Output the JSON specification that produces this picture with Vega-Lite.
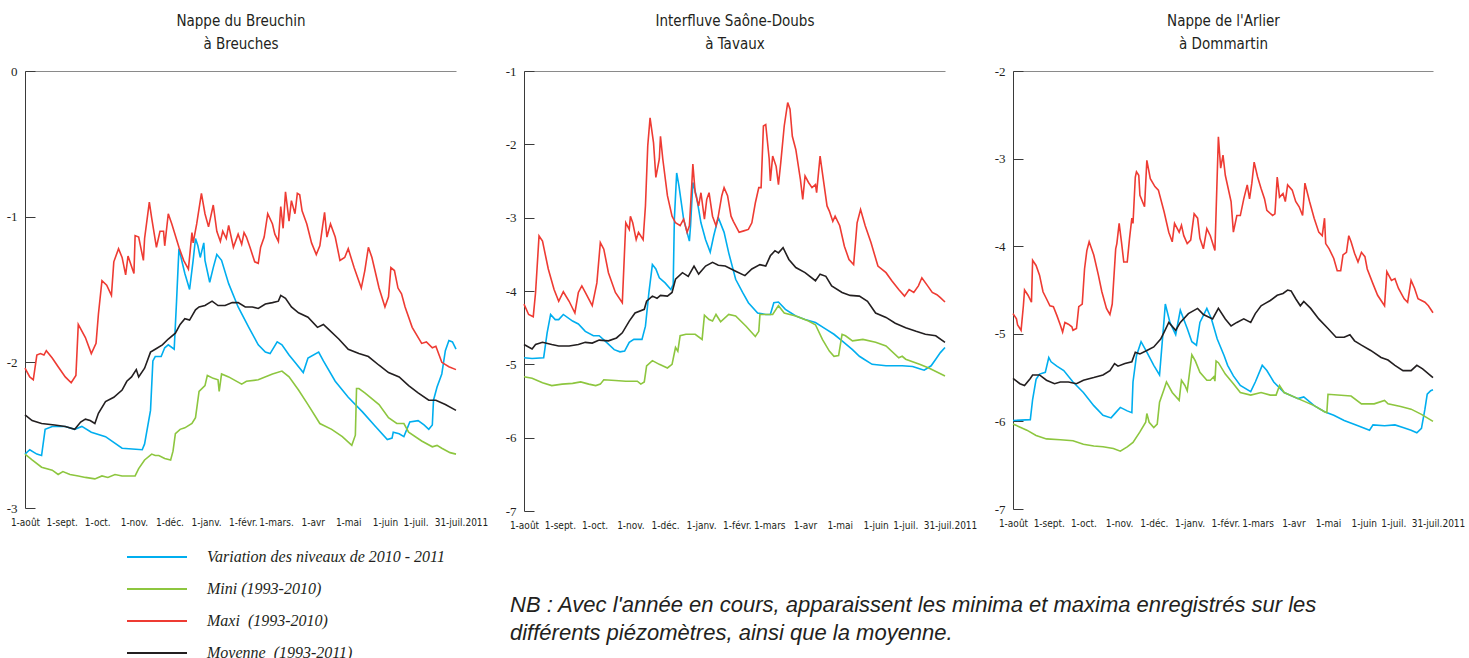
{
"$schema": "https://vega.github.io/schema/vega-lite/v6.json",
"background": "white",
"padding": {"left": 6, "top": 13, "right": 0, "bottom": 0},
"bounds": "flush",
"spacing": 68,
"config": {"view": {"stroke": null}, "font": "Liberation Sans", "axis": {"grid": false}},
"resolve": {"scale": {"x": "independent", "y": "independent", "color": "shared"}, "legend": {"color": "shared"}, "axis": {"x": "independent", "y": "independent"}},
"datasets": {
"p1": [
{"s":"v","j":0,"n":-2.63},{"s":"v","j":4,"n":-2.60},{"s":"v","j":10,"n":-2.63},{"s":"v","j":14,"n":-2.64},{"s":"v","j":17,"n":-2.46},{"s":"v","j":23,"n":-2.44},{"s":"v","j":34,"n":-2.44},{"s":"v","j":42,"n":-2.46},{"s":"v","j":48,"n":-2.44},{"s":"v","j":56,"n":-2.48},{"s":"v","j":68,"n":-2.51},{"s":"v","j":82,"n":-2.59},{"s":"v","j":99,"n":-2.60},{"s":"v","j":101,"n":-2.56},{"s":"v","j":106,"n":-2.33},{"s":"v","j":108,"n":-1.99},{"s":"v","j":110,"n":-1.96},{"s":"v","j":115,"n":-1.96},{"s":"v","j":118,"n":-1.90},{"s":"v","j":121,"n":-1.88},{"s":"v","j":126,"n":-1.91},{"s":"v","j":128,"n":-1.58},{"s":"v","j":130,"n":-1.22},{"s":"v","j":135,"n":-1.39},{"s":"v","j":139,"n":-1.50},{"s":"v","j":142,"n":-1.30},{"s":"v","j":144,"n":-1.15},{"s":"v","j":146,"n":-1.20},{"s":"v","j":148,"n":-1.28},{"s":"v","j":151,"n":-1.18},{"s":"v","j":152,"n":-1.30},{"s":"v","j":156,"n":-1.45},{"s":"v","j":159,"n":-1.35},{"s":"v","j":162,"n":-1.26},{"s":"v","j":166,"n":-1.30},{"s":"v","j":172,"n":-1.46},{"s":"v","j":180,"n":-1.62},{"s":"v","j":189,"n":-1.76},{"s":"v","j":197,"n":-1.88},{"s":"v","j":203,"n":-1.93},{"s":"v","j":207,"n":-1.94},{"s":"v","j":213,"n":-1.86},{"s":"v","j":217,"n":-1.88},{"s":"v","j":223,"n":-1.95},{"s":"v","j":228,"n":-2.00},{"s":"v","j":235,"n":-2.07},{"s":"v","j":239,"n":-1.97},{"s":"v","j":248,"n":-1.93},{"s":"v","j":252,"n":-1.99},{"s":"v","j":262,"n":-2.13},{"s":"v","j":273,"n":-2.24},{"s":"v","j":285,"n":-2.34},{"s":"v","j":296,"n":-2.44},{"s":"v","j":306,"n":-2.53},{"s":"v","j":310,"n":-2.52},{"s":"v","j":311,"n":-2.48},{"s":"v","j":316,"n":-2.49},{"s":"v","j":320,"n":-2.51},{"s":"v","j":325,"n":-2.41},{"s":"v","j":332,"n":-2.40},{"s":"v","j":337,"n":-2.43},{"s":"v","j":341,"n":-2.46},{"s":"v","j":344,"n":-2.43},{"s":"v","j":345,"n":-2.26},{"s":"v","j":348,"n":-2.17},{"s":"v","j":352,"n":-2.08},{"s":"v","j":355,"n":-1.92},{"s":"v","j":358,"n":-1.85},{"s":"v","j":361,"n":-1.86},{"s":"v","j":364,"n":-1.91},
{"s":"mo","j":0,"n":-2.36},{"s":"mo","j":6,"n":-2.40},{"s":"mo","j":14,"n":-2.42},{"s":"mo","j":25,"n":-2.43},{"s":"mo","j":34,"n":-2.44},{"s":"mo","j":42,"n":-2.46},{"s":"mo","j":47,"n":-2.41},{"s":"mo","j":51,"n":-2.39},{"s":"mo","j":55,"n":-2.40},{"s":"mo","j":59,"n":-2.42},{"s":"mo","j":62,"n":-2.35},{"s":"mo","j":68,"n":-2.27},{"s":"mo","j":75,"n":-2.24},{"s":"mo","j":82,"n":-2.19},{"s":"mo","j":86,"n":-2.13},{"s":"mo","j":90,"n":-2.10},{"s":"mo","j":94,"n":-2.05},{"s":"mo","j":96,"n":-2.10},{"s":"mo","j":101,"n":-2.04},{"s":"mo","j":106,"n":-1.93},{"s":"mo","j":110,"n":-1.91},{"s":"mo","j":116,"n":-1.88},{"s":"mo","j":121,"n":-1.84},{"s":"mo","j":127,"n":-1.80},{"s":"mo","j":131,"n":-1.74},{"s":"mo","j":135,"n":-1.70},{"s":"mo","j":139,"n":-1.71},{"s":"mo","j":144,"n":-1.64},{"s":"mo","j":147,"n":-1.62},{"s":"mo","j":152,"n":-1.61},{"s":"mo","j":158,"n":-1.58},{"s":"mo","j":163,"n":-1.61},{"s":"mo","j":169,"n":-1.61},{"s":"mo","j":175,"n":-1.59},{"s":"mo","j":180,"n":-1.59},{"s":"mo","j":186,"n":-1.62},{"s":"mo","j":192,"n":-1.62},{"s":"mo","j":197,"n":-1.63},{"s":"mo","j":203,"n":-1.60},{"s":"mo","j":209,"n":-1.59},{"s":"mo","j":214,"n":-1.58},{"s":"mo","j":216,"n":-1.54},{"s":"mo","j":220,"n":-1.56},{"s":"mo","j":225,"n":-1.62},{"s":"mo","j":231,"n":-1.66},{"s":"mo","j":239,"n":-1.69},{"s":"mo","j":247,"n":-1.76},{"s":"mo","j":252,"n":-1.74},{"s":"mo","j":256,"n":-1.77},{"s":"mo","j":265,"n":-1.84},{"s":"mo","j":273,"n":-1.91},{"s":"mo","j":282,"n":-1.94},{"s":"mo","j":290,"n":-1.96},{"s":"mo","j":299,"n":-2.02},{"s":"mo","j":307,"n":-2.07},{"s":"mo","j":316,"n":-2.10},{"s":"mo","j":324,"n":-2.16},{"s":"mo","j":332,"n":-2.21},{"s":"mo","j":341,"n":-2.26},{"s":"mo","j":347,"n":-2.26},{"s":"mo","j":355,"n":-2.29},{"s":"mo","j":364,"n":-2.33},
{"s":"mi","j":0,"n":-2.63},{"s":"mi","j":6,"n":-2.67},{"s":"mi","j":14,"n":-2.72},{"s":"mi","j":23,"n":-2.74},{"s":"mi","j":28,"n":-2.77},{"s":"mi","j":32,"n":-2.75},{"s":"mi","j":38,"n":-2.77},{"s":"mi","j":45,"n":-2.78},{"s":"mi","j":51,"n":-2.79},{"s":"mi","j":59,"n":-2.80},{"s":"mi","j":65,"n":-2.78},{"s":"mi","j":70,"n":-2.79},{"s":"mi","j":76,"n":-2.77},{"s":"mi","j":82,"n":-2.78},{"s":"mi","j":89,"n":-2.78},{"s":"mi","j":93,"n":-2.78},{"s":"mi","j":96,"n":-2.73},{"s":"mi","j":101,"n":-2.67},{"s":"mi","j":107,"n":-2.63},{"s":"mi","j":110,"n":-2.64},{"s":"mi","j":113,"n":-2.64},{"s":"mi","j":118,"n":-2.66},{"s":"mi","j":123,"n":-2.67},{"s":"mi","j":125,"n":-2.61},{"s":"mi","j":127,"n":-2.49},{"s":"mi","j":131,"n":-2.46},{"s":"mi","j":135,"n":-2.45},{"s":"mi","j":141,"n":-2.42},{"s":"mi","j":144,"n":-2.38},{"s":"mi","j":147,"n":-2.20},{"s":"mi","j":152,"n":-2.16},{"s":"mi","j":154,"n":-2.09},{"s":"mi","j":159,"n":-2.11},{"s":"mi","j":163,"n":-2.12},{"s":"mi","j":164,"n":-2.20},{"s":"mi","j":166,"n":-2.08},{"s":"mi","j":172,"n":-2.10},{"s":"mi","j":183,"n":-2.15},{"s":"mi","j":187,"n":-2.13},{"s":"mi","j":197,"n":-2.12},{"s":"mi","j":209,"n":-2.08},{"s":"mi","j":217,"n":-2.06},{"s":"mi","j":223,"n":-2.10},{"s":"mi","j":231,"n":-2.19},{"s":"mi","j":239,"n":-2.29},{"s":"mi","j":249,"n":-2.42},{"s":"mi","j":259,"n":-2.46},{"s":"mi","j":268,"n":-2.51},{"s":"mi","j":276,"n":-2.57},{"s":"mi","j":279,"n":-2.50},{"s":"mi","j":280,"n":-2.18},{"s":"mi","j":282,"n":-2.18},{"s":"mi","j":287,"n":-2.21},{"s":"mi","j":299,"n":-2.29},{"s":"mi","j":307,"n":-2.38},{"s":"mi","j":314,"n":-2.42},{"s":"mi","j":320,"n":-2.42},{"s":"mi","j":324,"n":-2.48},{"s":"mi","j":335,"n":-2.54},{"s":"mi","j":344,"n":-2.58},{"s":"mi","j":348,"n":-2.57},{"s":"mi","j":352,"n":-2.59},{"s":"mi","j":359,"n":-2.62},{"s":"mi","j":364,"n":-2.63},
{"s":"ma","j":0,"n":-2.04},{"s":"ma","j":4,"n":-2.10},{"s":"ma","j":7,"n":-2.12},{"s":"ma","j":10,"n":-1.95},{"s":"ma","j":13,"n":-1.94},{"s":"ma","j":16,"n":-1.95},{"s":"ma","j":18,"n":-1.92},{"s":"ma","j":23,"n":-1.97},{"s":"ma","j":28,"n":-2.03},{"s":"ma","j":34,"n":-2.10},{"s":"ma","j":39,"n":-2.14},{"s":"ma","j":43,"n":-2.09},{"s":"ma","j":45,"n":-1.74},{"s":"ma","j":51,"n":-1.83},{"s":"ma","j":56,"n":-1.94},{"s":"ma","j":60,"n":-1.87},{"s":"ma","j":62,"n":-1.67},{"s":"ma","j":65,"n":-1.44},{"s":"ma","j":69,"n":-1.47},{"s":"ma","j":73,"n":-1.54},{"s":"ma","j":75,"n":-1.31},{"s":"ma","j":79,"n":-1.22},{"s":"ma","j":82,"n":-1.28},{"s":"ma","j":85,"n":-1.40},{"s":"ma","j":87,"n":-1.27},{"s":"ma","j":92,"n":-1.39},{"s":"ma","j":93,"n":-1.13},{"s":"ma","j":96,"n":-1.14},{"s":"ma","j":100,"n":-1.30},{"s":"ma","j":101,"n":-1.15},{"s":"ma","j":105,"n":-0.90},{"s":"ma","j":107,"n":-1.01},{"s":"ma","j":111,"n":-1.21},{"s":"ma","j":114,"n":-1.10},{"s":"ma","j":117,"n":-1.10},{"s":"ma","j":118,"n":-1.20},{"s":"ma","j":121,"n":-0.98},{"s":"ma","j":124,"n":-1.05},{"s":"ma","j":130,"n":-1.21},{"s":"ma","j":134,"n":-1.30},{"s":"ma","j":138,"n":-1.36},{"s":"ma","j":141,"n":-1.11},{"s":"ma","j":142,"n":-1.18},{"s":"ma","j":145,"n":-1.05},{"s":"ma","j":149,"n":-0.84},{"s":"ma","j":152,"n":-0.98},{"s":"ma","j":155,"n":-1.07},{"s":"ma","j":159,"n":-0.92},{"s":"ma","j":162,"n":-1.10},{"s":"ma","j":165,"n":-1.17},{"s":"ma","j":167,"n":-1.10},{"s":"ma","j":170,"n":-1.15},{"s":"ma","j":172,"n":-1.06},{"s":"ma","j":176,"n":-1.21},{"s":"ma","j":180,"n":-1.12},{"s":"ma","j":183,"n":-1.19},{"s":"ma","j":185,"n":-1.11},{"s":"ma","j":187,"n":-1.14},{"s":"ma","j":190,"n":-1.21},{"s":"ma","j":194,"n":-1.31},{"s":"ma","j":197,"n":-1.32},{"s":"ma","j":199,"n":-1.21},{"s":"ma","j":202,"n":-1.14},{"s":"ma","j":205,"n":-0.98},{"s":"ma","j":209,"n":-1.05},{"s":"ma","j":211,"n":-1.12},{"s":"ma","j":214,"n":-1.17},{"s":"ma","j":216,"n":-0.93},{"s":"ma","j":218,"n":-1.08},{"s":"ma","j":220,"n":-0.83},{"s":"ma","j":223,"n":-1.03},{"s":"ma","j":225,"n":-0.89},{"s":"ma","j":228,"n":-0.98},{"s":"ma","j":230,"n":-0.84},{"s":"ma","j":232,"n":-0.85},{"s":"ma","j":234,"n":-0.96},{"s":"ma","j":238,"n":-1.05},{"s":"ma","j":242,"n":-1.18},{"s":"ma","j":246,"n":-1.26},{"s":"ma","j":249,"n":-1.20},{"s":"ma","j":253,"n":-0.97},{"s":"ma","j":255,"n":-1.14},{"s":"ma","j":258,"n":-1.05},{"s":"ma","j":262,"n":-1.14},{"s":"ma","j":266,"n":-1.30},{"s":"ma","j":270,"n":-1.28},{"s":"ma","j":273,"n":-1.22},{"s":"ma","j":278,"n":-1.35},{"s":"ma","j":284,"n":-1.49},{"s":"ma","j":287,"n":-1.37},{"s":"ma","j":290,"n":-1.21},{"s":"ma","j":293,"n":-1.28},{"s":"ma","j":299,"n":-1.49},{"s":"ma","j":304,"n":-1.62},{"s":"ma","j":307,"n":-1.55},{"s":"ma","j":309,"n":-1.35},{"s":"ma","j":312,"n":-1.37},{"s":"ma","j":315,"n":-1.49},{"s":"ma","j":318,"n":-1.53},{"s":"ma","j":321,"n":-1.62},{"s":"ma","j":327,"n":-1.76},{"s":"ma","j":335,"n":-1.87},{"s":"ma","j":339,"n":-1.86},{"s":"ma","j":344,"n":-1.90},{"s":"ma","j":347,"n":-1.89},{"s":"ma","j":352,"n":-2.00},{"s":"ma","j":358,"n":-2.03},{"s":"ma","j":364,"n":-2.05}
],
"p2": [
{"s":"v","j":0,"n":-4.91},{"s":"v","j":7,"n":-4.92},{"s":"v","j":17,"n":-4.91},{"s":"v","j":20,"n":-4.57},{"s":"v","j":23,"n":-4.32},{"s":"v","j":27,"n":-4.39},{"s":"v","j":30,"n":-4.39},{"s":"v","j":34,"n":-4.32},{"s":"v","j":42,"n":-4.41},{"s":"v","j":47,"n":-4.45},{"s":"v","j":53,"n":-4.55},{"s":"v","j":60,"n":-4.61},{"s":"v","j":65,"n":-4.61},{"s":"v","j":70,"n":-4.68},{"s":"v","j":78,"n":-4.80},{"s":"v","j":83,"n":-4.83},{"s":"v","j":87,"n":-4.82},{"s":"v","j":91,"n":-4.70},{"s":"v","j":95,"n":-4.66},{"s":"v","j":102,"n":-4.66},{"s":"v","j":105,"n":-4.48},{"s":"v","j":108,"n":-4.02},{"s":"v","j":111,"n":-3.64},{"s":"v","j":114,"n":-3.70},{"s":"v","j":117,"n":-3.82},{"s":"v","j":122,"n":-3.89},{"s":"v","j":127,"n":-3.98},{"s":"v","j":129,"n":-3.91},{"s":"v","j":130,"n":-3.02},{"s":"v","j":132,"n":-2.39},{"s":"v","j":134,"n":-2.57},{"s":"v","j":138,"n":-3.02},{"s":"v","j":143,"n":-3.32},{"s":"v","j":144,"n":-3.11},{"s":"v","j":146,"n":-2.52},{"s":"v","j":149,"n":-2.70},{"s":"v","j":153,"n":-3.07},{"s":"v","j":157,"n":-3.30},{"s":"v","j":161,"n":-3.47},{"s":"v","j":164,"n":-3.25},{"s":"v","j":168,"n":-3.00},{"s":"v","j":173,"n":-3.20},{"s":"v","j":177,"n":-3.48},{"s":"v","j":183,"n":-3.84},{"s":"v","j":189,"n":-4.02},{"s":"v","j":194,"n":-4.16},{"s":"v","j":202,"n":-4.30},{"s":"v","j":209,"n":-4.32},{"s":"v","j":213,"n":-4.32},{"s":"v","j":216,"n":-4.16},{"s":"v","j":220,"n":-4.15},{"s":"v","j":226,"n":-4.25},{"s":"v","j":235,"n":-4.34},{"s":"v","j":243,"n":-4.39},{"s":"v","j":252,"n":-4.43},{"s":"v","j":261,"n":-4.52},{"s":"v","j":268,"n":-4.59},{"s":"v","j":275,"n":-4.68},{"s":"v","j":284,"n":-4.80},{"s":"v","j":290,"n":-4.89},{"s":"v","j":294,"n":-4.93},{"s":"v","j":301,"n":-5.00},{"s":"v","j":313,"n":-5.02},{"s":"v","j":327,"n":-5.02},{"s":"v","j":336,"n":-5.03},{"s":"v","j":342,"n":-5.06},{"s":"v","j":346,"n":-5.08},{"s":"v","j":352,"n":-5.02},{"s":"v","j":356,"n":-4.93},{"s":"v","j":360,"n":-4.84},{"s":"v","j":364,"n":-4.77},
{"s":"mo","j":0,"n":-4.73},{"s":"mo","j":7,"n":-4.79},{"s":"mo","j":10,"n":-4.73},{"s":"mo","j":16,"n":-4.70},{"s":"mo","j":24,"n":-4.73},{"s":"mo","j":30,"n":-4.75},{"s":"mo","j":39,"n":-4.75},{"s":"mo","j":47,"n":-4.73},{"s":"mo","j":53,"n":-4.70},{"s":"mo","j":59,"n":-4.71},{"s":"mo","j":65,"n":-4.67},{"s":"mo","j":73,"n":-4.68},{"s":"mo","j":80,"n":-4.64},{"s":"mo","j":85,"n":-4.57},{"s":"mo","j":91,"n":-4.41},{"s":"mo","j":96,"n":-4.30},{"s":"mo","j":104,"n":-4.25},{"s":"mo","j":106,"n":-4.14},{"s":"mo","j":111,"n":-4.07},{"s":"mo","j":115,"n":-4.10},{"s":"mo","j":118,"n":-4.06},{"s":"mo","j":124,"n":-4.07},{"s":"mo","j":128,"n":-4.02},{"s":"mo","j":131,"n":-3.84},{"s":"mo","j":137,"n":-3.75},{"s":"mo","j":142,"n":-3.80},{"s":"mo","j":147,"n":-3.66},{"s":"mo","j":151,"n":-3.77},{"s":"mo","j":157,"n":-3.66},{"s":"mo","j":163,"n":-3.61},{"s":"mo","j":168,"n":-3.65},{"s":"mo","j":174,"n":-3.66},{"s":"mo","j":183,"n":-3.73},{"s":"mo","j":191,"n":-3.79},{"s":"mo","j":197,"n":-3.70},{"s":"mo","j":204,"n":-3.64},{"s":"mo","j":209,"n":-3.66},{"s":"mo","j":213,"n":-3.52},{"s":"mo","j":217,"n":-3.45},{"s":"mo","j":220,"n":-3.48},{"s":"mo","j":224,"n":-3.41},{"s":"mo","j":229,"n":-3.57},{"s":"mo","j":235,"n":-3.68},{"s":"mo","j":243,"n":-3.75},{"s":"mo","j":252,"n":-3.86},{"s":"mo","j":256,"n":-3.77},{"s":"mo","j":261,"n":-3.80},{"s":"mo","j":266,"n":-3.93},{"s":"mo","j":275,"n":-4.02},{"s":"mo","j":282,"n":-4.06},{"s":"mo","j":290,"n":-4.07},{"s":"mo","j":297,"n":-4.14},{"s":"mo","j":304,"n":-4.30},{"s":"mo","j":313,"n":-4.36},{"s":"mo","j":321,"n":-4.44},{"s":"mo","j":330,"n":-4.50},{"s":"mo","j":339,"n":-4.55},{"s":"mo","j":347,"n":-4.59},{"s":"mo","j":356,"n":-4.61},{"s":"mo","j":364,"n":-4.70},
{"s":"mi","j":0,"n":-5.17},{"s":"mi","j":7,"n":-5.19},{"s":"mi","j":16,"n":-5.25},{"s":"mi","j":24,"n":-5.29},{"s":"mi","j":33,"n":-5.27},{"s":"mi","j":42,"n":-5.26},{"s":"mi","j":49,"n":-5.24},{"s":"mi","j":56,"n":-5.27},{"s":"mi","j":62,"n":-5.29},{"s":"mi","j":66,"n":-5.27},{"s":"mi","j":69,"n":-5.21},{"s":"mi","j":79,"n":-5.22},{"s":"mi","j":88,"n":-5.23},{"s":"mi","j":98,"n":-5.23},{"s":"mi","j":101,"n":-5.27},{"s":"mi","j":104,"n":-5.24},{"s":"mi","j":106,"n":-5.02},{"s":"mi","j":111,"n":-4.95},{"s":"mi","j":117,"n":-5.00},{"s":"mi","j":124,"n":-5.05},{"s":"mi","j":128,"n":-5.00},{"s":"mi","j":131,"n":-4.77},{"s":"mi","j":133,"n":-4.82},{"s":"mi","j":135,"n":-4.61},{"s":"mi","j":140,"n":-4.59},{"s":"mi","j":148,"n":-4.59},{"s":"mi","j":154,"n":-4.66},{"s":"mi","j":156,"n":-4.33},{"s":"mi","j":160,"n":-4.39},{"s":"mi","j":163,"n":-4.41},{"s":"mi","j":166,"n":-4.32},{"s":"mi","j":170,"n":-4.42},{"s":"mi","j":177,"n":-4.32},{"s":"mi","j":183,"n":-4.34},{"s":"mi","j":192,"n":-4.48},{"s":"mi","j":200,"n":-4.62},{"s":"mi","j":203,"n":-4.55},{"s":"mi","j":204,"n":-4.32},{"s":"mi","j":215,"n":-4.32},{"s":"mi","j":220,"n":-4.20},{"s":"mi","j":225,"n":-4.30},{"s":"mi","j":235,"n":-4.34},{"s":"mi","j":246,"n":-4.41},{"s":"mi","j":252,"n":-4.46},{"s":"mi","j":258,"n":-4.66},{"s":"mi","j":264,"n":-4.82},{"s":"mi","j":268,"n":-4.89},{"s":"mi","j":272,"n":-4.88},{"s":"mi","j":275,"n":-4.59},{"s":"mi","j":278,"n":-4.61},{"s":"mi","j":284,"n":-4.68},{"s":"mi","j":293,"n":-4.66},{"s":"mi","j":304,"n":-4.70},{"s":"mi","j":313,"n":-4.75},{"s":"mi","j":324,"n":-4.91},{"s":"mi","j":327,"n":-4.89},{"s":"mi","j":330,"n":-4.93},{"s":"mi","j":342,"n":-5.00},{"s":"mi","j":350,"n":-5.05},{"s":"mi","j":364,"n":-5.16},
{"s":"ma","j":0,"n":-4.18},{"s":"ma","j":4,"n":-4.32},{"s":"ma","j":8,"n":-4.35},{"s":"ma","j":10,"n":-4.02},{"s":"ma","j":13,"n":-3.25},{"s":"ma","j":16,"n":-3.32},{"s":"ma","j":21,"n":-3.70},{"s":"ma","j":26,"n":-3.98},{"s":"ma","j":30,"n":-4.14},{"s":"ma","j":34,"n":-4.01},{"s":"ma","j":39,"n":-4.14},{"s":"ma","j":44,"n":-4.30},{"s":"ma","j":47,"n":-4.02},{"s":"ma","j":50,"n":-3.93},{"s":"ma","j":53,"n":-4.02},{"s":"ma","j":59,"n":-4.20},{"s":"ma","j":63,"n":-3.89},{"s":"ma","j":66,"n":-3.34},{"s":"ma","j":69,"n":-3.43},{"s":"ma","j":73,"n":-3.75},{"s":"ma","j":79,"n":-4.02},{"s":"ma","j":85,"n":-4.16},{"s":"ma","j":88,"n":-3.07},{"s":"ma","j":91,"n":-3.16},{"s":"ma","j":92,"n":-2.98},{"s":"ma","j":94,"n":-3.07},{"s":"ma","j":97,"n":-3.30},{"s":"ma","j":99,"n":-3.20},{"s":"ma","j":103,"n":-3.30},{"s":"ma","j":105,"n":-2.84},{"s":"ma","j":107,"n":-2.02},{"s":"ma","j":109,"n":-1.64},{"s":"ma","j":112,"n":-1.98},{"s":"ma","j":114,"n":-2.45},{"s":"ma","j":117,"n":-2.20},{"s":"ma","j":118,"n":-1.89},{"s":"ma","j":120,"n":-2.20},{"s":"ma","j":124,"n":-2.70},{"s":"ma","j":128,"n":-2.98},{"s":"ma","j":131,"n":-3.07},{"s":"ma","j":135,"n":-3.11},{"s":"ma","j":138,"n":-3.02},{"s":"ma","j":141,"n":-3.20},{"s":"ma","j":143,"n":-3.11},{"s":"ma","j":145,"n":-2.57},{"s":"ma","j":146,"n":-2.27},{"s":"ma","j":148,"n":-2.66},{"s":"ma","j":151,"n":-2.84},{"s":"ma","j":153,"n":-2.66},{"s":"ma","j":156,"n":-3.02},{"s":"ma","j":158,"n":-2.75},{"s":"ma","j":160,"n":-2.66},{"s":"ma","j":163,"n":-2.98},{"s":"ma","j":166,"n":-3.11},{"s":"ma","j":168,"n":-2.98},{"s":"ma","j":171,"n":-2.70},{"s":"ma","j":173,"n":-2.59},{"s":"ma","j":176,"n":-2.70},{"s":"ma","j":179,"n":-2.98},{"s":"ma","j":181,"n":-3.05},{"s":"ma","j":186,"n":-3.20},{"s":"ma","j":190,"n":-3.18},{"s":"ma","j":194,"n":-3.16},{"s":"ma","j":197,"n":-3.07},{"s":"ma","j":200,"n":-2.80},{"s":"ma","j":203,"n":-2.59},{"s":"ma","j":205,"n":-2.59},{"s":"ma","j":207,"n":-1.75},{"s":"ma","j":209,"n":-1.73},{"s":"ma","j":212,"n":-2.20},{"s":"ma","j":213,"n":-2.50},{"s":"ma","j":215,"n":-2.16},{"s":"ma","j":218,"n":-2.30},{"s":"ma","j":220,"n":-2.55},{"s":"ma","j":222,"n":-2.25},{"s":"ma","j":225,"n":-1.75},{"s":"ma","j":228,"n":-1.43},{"s":"ma","j":230,"n":-1.52},{"s":"ma","j":232,"n":-1.89},{"s":"ma","j":235,"n":-2.07},{"s":"ma","j":239,"n":-2.48},{"s":"ma","j":241,"n":-2.75},{"s":"ma","j":243,"n":-2.43},{"s":"ma","j":246,"n":-2.52},{"s":"ma","j":249,"n":-2.59},{"s":"ma","j":252,"n":-2.55},{"s":"ma","j":253,"n":-2.66},{"s":"ma","j":256,"n":-2.16},{"s":"ma","j":258,"n":-2.39},{"s":"ma","j":262,"n":-2.84},{"s":"ma","j":264,"n":-2.91},{"s":"ma","j":267,"n":-3.05},{"s":"ma","j":269,"n":-2.98},{"s":"ma","j":273,"n":-3.11},{"s":"ma","j":277,"n":-3.39},{"s":"ma","j":281,"n":-3.57},{"s":"ma","j":285,"n":-3.64},{"s":"ma","j":288,"n":-3.07},{"s":"ma","j":291,"n":-2.89},{"s":"ma","j":295,"n":-3.11},{"s":"ma","j":300,"n":-3.34},{"s":"ma","j":306,"n":-3.66},{"s":"ma","j":313,"n":-3.75},{"s":"ma","j":318,"n":-3.86},{"s":"ma","j":324,"n":-3.98},{"s":"ma","j":329,"n":-4.07},{"s":"ma","j":333,"n":-3.98},{"s":"ma","j":337,"n":-4.02},{"s":"ma","j":341,"n":-3.93},{"s":"ma","j":344,"n":-3.82},{"s":"ma","j":349,"n":-3.93},{"s":"ma","j":353,"n":-4.02},{"s":"ma","j":357,"n":-4.05},{"s":"ma","j":360,"n":-4.09},{"s":"ma","j":364,"n":-4.15}
],
"p3": [
{"s":"v","j":0,"n":-5.99},{"s":"v","j":15,"n":-5.98},{"s":"v","j":17,"n":-5.75},{"s":"v","j":20,"n":-5.52},{"s":"v","j":23,"n":-5.46},{"s":"v","j":28,"n":-5.44},{"s":"v","j":31,"n":-5.27},{"s":"v","j":33,"n":-5.32},{"s":"v","j":38,"n":-5.37},{"s":"v","j":44,"n":-5.42},{"s":"v","j":52,"n":-5.55},{"s":"v","j":61,"n":-5.67},{"s":"v","j":70,"n":-5.82},{"s":"v","j":78,"n":-5.93},{"s":"v","j":85,"n":-5.96},{"s":"v","j":89,"n":-5.90},{"s":"v","j":93,"n":-5.84},{"s":"v","j":99,"n":-5.88},{"s":"v","j":103,"n":-5.90},{"s":"v","j":104,"n":-5.55},{"s":"v","j":107,"n":-5.25},{"s":"v","j":111,"n":-5.09},{"s":"v","j":116,"n":-5.21},{"s":"v","j":122,"n":-5.36},{"s":"v","j":127,"n":-5.47},{"s":"v","j":131,"n":-4.83},{"s":"v","j":132,"n":-4.66},{"s":"v","j":136,"n":-4.87},{"s":"v","j":141,"n":-5.01},{"s":"v","j":145,"n":-4.73},{"s":"v","j":151,"n":-4.94},{"s":"v","j":155,"n":-5.09},{"s":"v","j":159,"n":-5.13},{"s":"v","j":162,"n":-4.87},{"s":"v","j":168,"n":-4.71},{"s":"v","j":172,"n":-4.83},{"s":"v","j":177,"n":-5.06},{"s":"v","j":183,"n":-5.25},{"s":"v","j":186,"n":-5.36},{"s":"v","j":191,"n":-5.48},{"s":"v","j":197,"n":-5.59},{"s":"v","j":206,"n":-5.66},{"s":"v","j":210,"n":-5.55},{"s":"v","j":216,"n":-5.36},{"s":"v","j":220,"n":-5.42},{"s":"v","j":226,"n":-5.55},{"s":"v","j":235,"n":-5.67},{"s":"v","j":247,"n":-5.74},{"s":"v","j":252,"n":-5.72},{"s":"v","j":261,"n":-5.82},{"s":"v","j":270,"n":-5.89},{"s":"v","j":278,"n":-5.93},{"s":"v","j":287,"n":-5.99},{"s":"v","j":299,"n":-6.05},{"s":"v","j":309,"n":-6.10},{"s":"v","j":312,"n":-6.04},{"s":"v","j":322,"n":-6.05},{"s":"v","j":331,"n":-6.04},{"s":"v","j":338,"n":-6.07},{"s":"v","j":345,"n":-6.10},{"s":"v","j":350,"n":-6.13},{"s":"v","j":354,"n":-6.08},{"s":"v","j":357,"n":-5.86},{"s":"v","j":359,"n":-5.69},{"s":"v","j":362,"n":-5.65},{"s":"v","j":364,"n":-5.64},
{"s":"mo","j":0,"n":-5.51},{"s":"mo","j":6,"n":-5.57},{"s":"mo","j":10,"n":-5.59},{"s":"mo","j":15,"n":-5.51},{"s":"mo","j":17,"n":-5.47},{"s":"mo","j":23,"n":-5.47},{"s":"mo","j":29,"n":-5.53},{"s":"mo","j":36,"n":-5.57},{"s":"mo","j":41,"n":-5.55},{"s":"mo","j":48,"n":-5.55},{"s":"mo","j":55,"n":-5.57},{"s":"mo","j":61,"n":-5.53},{"s":"mo","j":70,"n":-5.50},{"s":"mo","j":78,"n":-5.47},{"s":"mo","j":84,"n":-5.42},{"s":"mo","j":88,"n":-5.34},{"s":"mo","j":91,"n":-5.37},{"s":"mo","j":97,"n":-5.34},{"s":"mo","j":103,"n":-5.32},{"s":"mo","j":106,"n":-5.21},{"s":"mo","j":110,"n":-5.23},{"s":"mo","j":116,"n":-5.19},{"s":"mo","j":122,"n":-5.15},{"s":"mo","j":128,"n":-5.06},{"s":"mo","j":131,"n":-4.98},{"s":"mo","j":135,"n":-4.87},{"s":"mo","j":141,"n":-4.96},{"s":"mo","j":145,"n":-4.87},{"s":"mo","j":152,"n":-4.77},{"s":"mo","j":160,"n":-4.71},{"s":"mo","j":165,"n":-4.78},{"s":"mo","j":173,"n":-4.83},{"s":"mo","j":178,"n":-4.71},{"s":"mo","j":184,"n":-4.83},{"s":"mo","j":189,"n":-4.91},{"s":"mo","j":194,"n":-4.87},{"s":"mo","j":200,"n":-4.83},{"s":"mo","j":206,"n":-4.87},{"s":"mo","j":210,"n":-4.77},{"s":"mo","j":215,"n":-4.68},{"s":"mo","j":219,"n":-4.65},{"s":"mo","j":223,"n":-4.62},{"s":"mo","j":229,"n":-4.56},{"s":"mo","j":234,"n":-4.54},{"s":"mo","j":238,"n":-4.50},{"s":"mo","j":241,"n":-4.51},{"s":"mo","j":245,"n":-4.60},{"s":"mo","j":249,"n":-4.68},{"s":"mo","j":252,"n":-4.63},{"s":"mo","j":258,"n":-4.71},{"s":"mo","j":265,"n":-4.83},{"s":"mo","j":273,"n":-4.94},{"s":"mo","j":280,"n":-5.04},{"s":"mo","j":287,"n":-5.04},{"s":"mo","j":292,"n":-5.01},{"s":"mo","j":296,"n":-5.08},{"s":"mo","j":302,"n":-5.13},{"s":"mo","j":310,"n":-5.19},{"s":"mo","j":319,"n":-5.27},{"s":"mo","j":325,"n":-5.30},{"s":"mo","j":331,"n":-5.36},{"s":"mo","j":338,"n":-5.42},{"s":"mo","j":345,"n":-5.42},{"s":"mo","j":350,"n":-5.36},{"s":"mo","j":355,"n":-5.40},{"s":"mo","j":364,"n":-5.50},
{"s":"mi","j":0,"n":-6.03},{"s":"mi","j":12,"n":-6.10},{"s":"mi","j":20,"n":-6.16},{"s":"mi","j":29,"n":-6.20},{"s":"mi","j":41,"n":-6.21},{"s":"mi","j":52,"n":-6.22},{"s":"mi","j":61,"n":-6.26},{"s":"mi","j":70,"n":-6.28},{"s":"mi","j":78,"n":-6.29},{"s":"mi","j":87,"n":-6.31},{"s":"mi","j":93,"n":-6.34},{"s":"mi","j":99,"n":-6.29},{"s":"mi","j":104,"n":-6.24},{"s":"mi","j":110,"n":-6.12},{"s":"mi","j":115,"n":-6.01},{"s":"mi","j":116,"n":-5.91},{"s":"mi","j":118,"n":-6.01},{"s":"mi","j":122,"n":-6.07},{"s":"mi","j":125,"n":-6.03},{"s":"mi","j":127,"n":-5.78},{"s":"mi","j":131,"n":-5.63},{"s":"mi","j":133,"n":-5.55},{"s":"mi","j":138,"n":-5.67},{"s":"mi","j":144,"n":-5.76},{"s":"mi","j":146,"n":-5.53},{"s":"mi","j":149,"n":-5.59},{"s":"mi","j":151,"n":-5.65},{"s":"mi","j":155,"n":-5.24},{"s":"mi","j":158,"n":-5.31},{"s":"mi","j":162,"n":-5.44},{"s":"mi","j":168,"n":-5.53},{"s":"mi","j":171,"n":-5.53},{"s":"mi","j":174,"n":-5.49},{"s":"mi","j":175,"n":-5.54},{"s":"mi","j":176,"n":-5.31},{"s":"mi","j":178,"n":-5.33},{"s":"mi","j":184,"n":-5.46},{"s":"mi","j":191,"n":-5.57},{"s":"mi","j":197,"n":-5.67},{"s":"mi","j":206,"n":-5.70},{"s":"mi","j":215,"n":-5.67},{"s":"mi","j":223,"n":-5.70},{"s":"mi","j":228,"n":-5.70},{"s":"mi","j":231,"n":-5.59},{"s":"mi","j":235,"n":-5.67},{"s":"mi","j":247,"n":-5.74},{"s":"mi","j":261,"n":-5.82},{"s":"mi","j":270,"n":-5.89},{"s":"mi","j":272,"n":-5.90},{"s":"mi","j":273,"n":-5.69},{"s":"mi","j":293,"n":-5.71},{"s":"mi","j":302,"n":-5.80},{"s":"mi","j":313,"n":-5.80},{"s":"mi","j":322,"n":-5.76},{"s":"mi","j":325,"n":-5.80},{"s":"mi","j":336,"n":-5.83},{"s":"mi","j":345,"n":-5.86},{"s":"mi","j":354,"n":-5.92},{"s":"mi","j":364,"n":-6.00},
{"s":"ma","j":0,"n":-4.77},{"s":"ma","j":3,"n":-4.83},{"s":"ma","j":4,"n":-4.90},{"s":"ma","j":7,"n":-4.96},{"s":"ma","j":9,"n":-4.68},{"s":"ma","j":10,"n":-4.50},{"s":"ma","j":13,"n":-4.56},{"s":"ma","j":16,"n":-4.64},{"s":"ma","j":17,"n":-4.16},{"s":"ma","j":20,"n":-4.22},{"s":"ma","j":23,"n":-4.33},{"s":"ma","j":26,"n":-4.52},{"s":"ma","j":29,"n":-4.60},{"s":"ma","j":32,"n":-4.68},{"s":"ma","j":35,"n":-4.69},{"s":"ma","j":38,"n":-4.79},{"s":"ma","j":41,"n":-4.90},{"s":"ma","j":43,"n":-4.98},{"s":"ma","j":45,"n":-4.87},{"s":"ma","j":48,"n":-4.89},{"s":"ma","j":51,"n":-4.92},{"s":"ma","j":52,"n":-4.96},{"s":"ma","j":55,"n":-4.94},{"s":"ma","j":57,"n":-4.69},{"s":"ma","j":60,"n":-4.66},{"s":"ma","j":62,"n":-4.26},{"s":"ma","j":64,"n":-4.05},{"s":"ma","j":66,"n":-3.95},{"s":"ma","j":70,"n":-4.10},{"s":"ma","j":74,"n":-4.33},{"s":"ma","j":77,"n":-4.52},{"s":"ma","j":81,"n":-4.71},{"s":"ma","j":84,"n":-4.78},{"s":"ma","j":86,"n":-4.66},{"s":"ma","j":89,"n":-4.03},{"s":"ma","j":90,"n":-3.97},{"s":"ma","j":92,"n":-3.74},{"s":"ma","j":94,"n":-3.95},{"s":"ma","j":96,"n":-4.18},{"s":"ma","j":99,"n":-4.18},{"s":"ma","j":101,"n":-3.91},{"s":"ma","j":103,"n":-3.68},{"s":"ma","j":104,"n":-3.74},{"s":"ma","j":106,"n":-3.21},{"s":"ma","j":107,"n":-3.15},{"s":"ma","j":109,"n":-3.19},{"s":"ma","j":110,"n":-3.42},{"s":"ma","j":114,"n":-3.55},{"s":"ma","j":116,"n":-3.02},{"s":"ma","j":119,"n":-3.23},{"s":"ma","j":123,"n":-3.32},{"s":"ma","j":126,"n":-3.36},{"s":"ma","j":131,"n":-3.61},{"s":"ma","j":135,"n":-3.84},{"s":"ma","j":138,"n":-3.95},{"s":"ma","j":140,"n":-3.74},{"s":"ma","j":144,"n":-3.84},{"s":"ma","j":146,"n":-3.76},{"s":"ma","j":148,"n":-3.88},{"s":"ma","j":151,"n":-3.97},{"s":"ma","j":154,"n":-3.93},{"s":"ma","j":157,"n":-3.63},{"s":"ma","j":160,"n":-3.68},{"s":"ma","j":162,"n":-3.91},{"s":"ma","j":165,"n":-4.03},{"s":"ma","j":168,"n":-3.80},{"s":"ma","j":171,"n":-3.88},{"s":"ma","j":175,"n":-4.05},{"s":"ma","j":178,"n":-2.75},{"s":"ma","j":180,"n":-3.11},{"s":"ma","j":182,"n":-2.96},{"s":"ma","j":184,"n":-3.19},{"s":"ma","j":189,"n":-3.49},{"s":"ma","j":191,"n":-3.84},{"s":"ma","j":194,"n":-3.65},{"s":"ma","j":197,"n":-3.65},{"s":"ma","j":200,"n":-3.46},{"s":"ma","j":203,"n":-3.30},{"s":"ma","j":205,"n":-3.46},{"s":"ma","j":207,"n":-3.28},{"s":"ma","j":209,"n":-3.04},{"s":"ma","j":212,"n":-3.21},{"s":"ma","j":215,"n":-3.34},{"s":"ma","j":218,"n":-3.46},{"s":"ma","j":220,"n":-3.59},{"s":"ma","j":225,"n":-3.65},{"s":"ma","j":227,"n":-3.63},{"s":"ma","j":229,"n":-3.21},{"s":"ma","j":231,"n":-3.44},{"s":"ma","j":234,"n":-3.40},{"s":"ma","j":236,"n":-3.49},{"s":"ma","j":238,"n":-3.30},{"s":"ma","j":242,"n":-3.36},{"s":"ma","j":245,"n":-3.49},{"s":"ma","j":248,"n":-3.55},{"s":"ma","j":251,"n":-3.65},{"s":"ma","j":253,"n":-3.28},{"s":"ma","j":257,"n":-3.49},{"s":"ma","j":261,"n":-3.68},{"s":"ma","j":265,"n":-3.84},{"s":"ma","j":268,"n":-3.88},{"s":"ma","j":270,"n":-3.68},{"s":"ma","j":271,"n":-3.97},{"s":"ma","j":274,"n":-4.03},{"s":"ma","j":278,"n":-4.14},{"s":"ma","j":281,"n":-4.28},{"s":"ma","j":284,"n":-4.28},{"s":"ma","j":286,"n":-4.10},{"s":"ma","j":289,"n":-4.07},{"s":"ma","j":291,"n":-3.88},{"s":"ma","j":293,"n":-3.95},{"s":"ma","j":296,"n":-4.08},{"s":"ma","j":299,"n":-4.18},{"s":"ma","j":302,"n":-4.07},{"s":"ma","j":305,"n":-4.12},{"s":"ma","j":307,"n":-4.26},{"s":"ma","j":312,"n":-4.43},{"s":"ma","j":316,"n":-4.56},{"s":"ma","j":322,"n":-4.68},{"s":"ma","j":324,"n":-4.29},{"s":"ma","j":328,"n":-4.39},{"s":"ma","j":331,"n":-4.37},{"s":"ma","j":334,"n":-4.48},{"s":"ma","j":339,"n":-4.60},{"s":"ma","j":342,"n":-4.64},{"s":"ma","j":345,"n":-4.39},{"s":"ma","j":348,"n":-4.48},{"s":"ma","j":351,"n":-4.60},{"s":"ma","j":357,"n":-4.64},{"s":"ma","j":360,"n":-4.68},{"s":"ma","j":364,"n":-4.76}
]
},
"hconcat": [
{
"width": 431, "height": 437,
"layer": [
{"data": {"name": "p1"}, "mark": {"type": "line", "strokeWidth": 1.6},
 "encoding": {
  "x": {"field": "j", "type": "quantitative", "scale": {"domain": [0, 364], "nice": false, "zero": false},
        "axis": {"orient": "bottom", "values": [0,31,61,92,122,153,184,212,243,273,304,334,364], "labelExpr": "['1-août','1-sept.','1-oct.','1-nov.','1-déc.','1-janv.','1-févr.','1-mars.','1-avr','1-mai','1-juin','1-juil.','31-juil.2011'][indexof([0,31,61,92,122,153,184,212,243,273,304,334,364], datum.value)]", "domain": false, "ticks": false, "grid": false, "labelFont": "DejaVu Sans Condensed", "labelFontSize": 10, "labelColor": "#231F20", "labelPadding": 9, "labelOverlap": false, "labelBound": false, "labelFlush": false, "labelOffset": {"condition": [{"test": "datum.value == 334", "value": -5}, {"test": "datum.value == 364", "value": 5}], "value": 0}, "title": null}},
  "y": {"field": "n", "type": "quantitative", "scale": {"domain": [-3, 0], "nice": false, "zero": false},
        "axis": {"values": [-3,-2,-1,0], "labelExpr": "'' + datum.value", "domainColor": "#3a3a3a", "tickColor": "#3a3a3a", "tickSize": -10, "labelPadding": 18, "labelFont": "Liberation Serif", "labelFontSize": 13, "labelColor": "#231F20", "title": null, "grid": false}},
  "color": {"field": "s", "type": "nominal", "scale": {"domain": ["v","mi","ma","mo"], "range": ["#00AEEF","#8DC63F","#EE3B33","#231F20"]},
        "legend": {"orient": "none", "legendX": 101, "legendY": 470, "title": null, "symbolType": "stroke", "symbolSize": 3600, "symbolStrokeWidth": 2, "labelFont": "Liberation Serif", "labelFontStyle": "italic", "labelFontSize": 16, "labelColor": "#231F20", "labelOffset": 19, "rowPadding": 0, "clipHeight": 32, "labelLimit": 400, "padding": 0, "labelExpr": "['Variation des niveaux de 2010 - 2011','Mini (1993-2010)','Maxi\u00a0 (1993-2010)','Moyenne\u00a0 (1993-2011)'][indexof(['v','mi','ma','mo'], datum.value)]"}}
 }},
{"data": {"values": [{"j": 0}]}, "mark": {"type": "rule", "opacity": 0},
 "encoding": {"x": {"field": "j", "type": "quantitative", "scale": {"domain": [0, 364], "nice": false, "zero": false},
   "axis": {"orient": "top", "domain": true, "domainColor": "#8a8a8a", "domainWidth": 1.2, "ticks": false, "labels": false, "grid": false, "title": ["Nappe du Breuchin", "à Breuches"], "titleFont": "DejaVu Sans Condensed", "titleFontSize": 15, "titleFontWeight": "normal", "titleColor": "#231F20", "titlePadding": 20, "titleLineHeight": 23}}}}
],
"resolve": {"axis": {"x": "independent"}}
},
{
"width": 421, "height": 440,
"title": {"text": ["NB : Avec l'année en cours, apparaissent les minima et maxima enregistrés sur les", "différents piézomètres, ainsi que la moyenne."], "orient": "bottom", "anchor": "start", "frame": "group", "dx": -14, "offset": 65, "font": "Liberation Sans", "fontSize": 22, "fontStyle": "italic", "fontWeight": "normal", "lineHeight": 28, "color": "#231F20"},
"layer": [
{"data": {"name": "p2"}, "mark": {"type": "line", "strokeWidth": 1.6},
 "encoding": {
  "x": {"field": "j", "type": "quantitative", "scale": {"domain": [0, 364], "nice": false, "zero": false},
        "axis": {"orient": "bottom", "values": [0,31,61,92,122,153,184,212,243,273,304,334,364], "labelExpr": "['1-août','1-sept.','1-oct.','1-nov.','1-déc.','1-janv.','1-févr.','1-mars','1-avr','1-mai','1-juin','1-juil.','31-juil.2011'][indexof([0,31,61,92,122,153,184,212,243,273,304,334,364], datum.value)]", "domain": false, "ticks": false, "grid": false, "labelFont": "DejaVu Sans Condensed", "labelFontSize": 10, "labelColor": "#231F20", "labelPadding": 9, "labelOverlap": false, "labelBound": false, "labelFlush": false, "labelOffset": {"condition": [{"test": "datum.value == 334", "value": -5}, {"test": "datum.value == 364", "value": 5}], "value": 0}, "title": null}},
  "y": {"field": "n", "type": "quantitative", "scale": {"domain": [-7, -1], "nice": false, "zero": false},
        "axis": {"values": [-7,-6,-5,-4,-3,-2,-1], "labelExpr": "'' + datum.value", "domainColor": "#3a3a3a", "tickColor": "#3a3a3a", "tickSize": -10, "labelPadding": 18, "labelFont": "Liberation Serif", "labelFontSize": 13, "labelColor": "#231F20", "title": null, "grid": false}},
  "color": {"field": "s", "type": "nominal", "scale": {"domain": ["v","mi","ma","mo"], "range": ["#00AEEF","#8DC63F","#EE3B33","#231F20"]},
        "legend": {"orient": "none", "legendX": 101, "legendY": 470, "title": null, "symbolType": "stroke", "symbolSize": 3600, "symbolStrokeWidth": 2, "labelFont": "Liberation Serif", "labelFontStyle": "italic", "labelFontSize": 16, "labelColor": "#231F20", "labelOffset": 19, "rowPadding": 0, "clipHeight": 32, "labelLimit": 400, "padding": 0, "labelExpr": "['Variation des niveaux de 2010 - 2011','Mini (1993-2010)','Maxi\u00a0 (1993-2010)','Moyenne\u00a0 (1993-2011)'][indexof(['v','mi','ma','mo'], datum.value)]"}}
 }},
{"data": {"values": [{"j": 0}]}, "mark": {"type": "rule", "opacity": 0},
 "encoding": {"x": {"field": "j", "type": "quantitative", "scale": {"domain": [0, 364], "nice": false, "zero": false},
   "axis": {"orient": "top", "domain": true, "domainColor": "#8a8a8a", "domainWidth": 1.2, "ticks": false, "labels": false, "grid": false, "title": ["Interfluve Saône-Doubs", "à Tavaux"], "titleFont": "DejaVu Sans Condensed", "titleFontSize": 15, "titleFontWeight": "normal", "titleColor": "#231F20", "titlePadding": 20, "titleLineHeight": 23}}}}
],
"resolve": {"axis": {"x": "independent"}}
},
{
"width": 420, "height": 438,
"layer": [
{"data": {"name": "p3"}, "mark": {"type": "line", "strokeWidth": 1.6},
 "encoding": {
  "x": {"field": "j", "type": "quantitative", "scale": {"domain": [0, 364], "nice": false, "zero": false},
        "axis": {"orient": "bottom", "values": [0,31,61,92,122,153,184,212,243,273,304,334,364], "labelExpr": "['1-août','1-sept.','1-oct.','1-nov.','1-déc.','1-janv.','1-févr.','1-mars','1-avr','1-mai','1-juin','1-juil.','31-juil.2011'][indexof([0,31,61,92,122,153,184,212,243,273,304,334,364], datum.value)]", "domain": false, "ticks": false, "grid": false, "labelFont": "DejaVu Sans Condensed", "labelFontSize": 10, "labelColor": "#231F20", "labelPadding": 9, "labelOverlap": false, "labelBound": false, "labelFlush": false, "labelOffset": {"condition": [{"test": "datum.value == 334", "value": -5}, {"test": "datum.value == 364", "value": 5}], "value": 0}, "title": null}},
  "y": {"field": "n", "type": "quantitative", "scale": {"domain": [-7, -2], "nice": false, "zero": false},
        "axis": {"values": [-7,-6,-5,-4,-3,-2], "labelExpr": "'' + datum.value", "domainColor": "#3a3a3a", "tickColor": "#3a3a3a", "tickSize": -10, "labelPadding": 18, "labelFont": "Liberation Serif", "labelFontSize": 13, "labelColor": "#231F20", "title": null, "grid": false}},
  "color": {"field": "s", "type": "nominal", "scale": {"domain": ["v","mi","ma","mo"], "range": ["#00AEEF","#8DC63F","#EE3B33","#231F20"]},
        "legend": {"orient": "none", "legendX": 101, "legendY": 470, "title": null, "symbolType": "stroke", "symbolSize": 3600, "symbolStrokeWidth": 2, "labelFont": "Liberation Serif", "labelFontStyle": "italic", "labelFontSize": 16, "labelColor": "#231F20", "labelOffset": 19, "rowPadding": 0, "clipHeight": 32, "labelLimit": 400, "padding": 0, "labelExpr": "['Variation des niveaux de 2010 - 2011','Mini (1993-2010)','Maxi\u00a0 (1993-2010)','Moyenne\u00a0 (1993-2011)'][indexof(['v','mi','ma','mo'], datum.value)]"}}
 }},
{"data": {"values": [{"j": 0}]}, "mark": {"type": "rule", "opacity": 0},
 "encoding": {"x": {"field": "j", "type": "quantitative", "scale": {"domain": [0, 364], "nice": false, "zero": false},
   "axis": {"orient": "top", "domain": true, "domainColor": "#8a8a8a", "domainWidth": 1.2, "ticks": false, "labels": false, "grid": false, "title": ["Nappe de l'Arlier", "à Dommartin"], "titleFont": "DejaVu Sans Condensed", "titleFontSize": 15, "titleFontWeight": "normal", "titleColor": "#231F20", "titlePadding": 20, "titleLineHeight": 23}}}}
],
"resolve": {"axis": {"x": "independent"}}
}
]
}
